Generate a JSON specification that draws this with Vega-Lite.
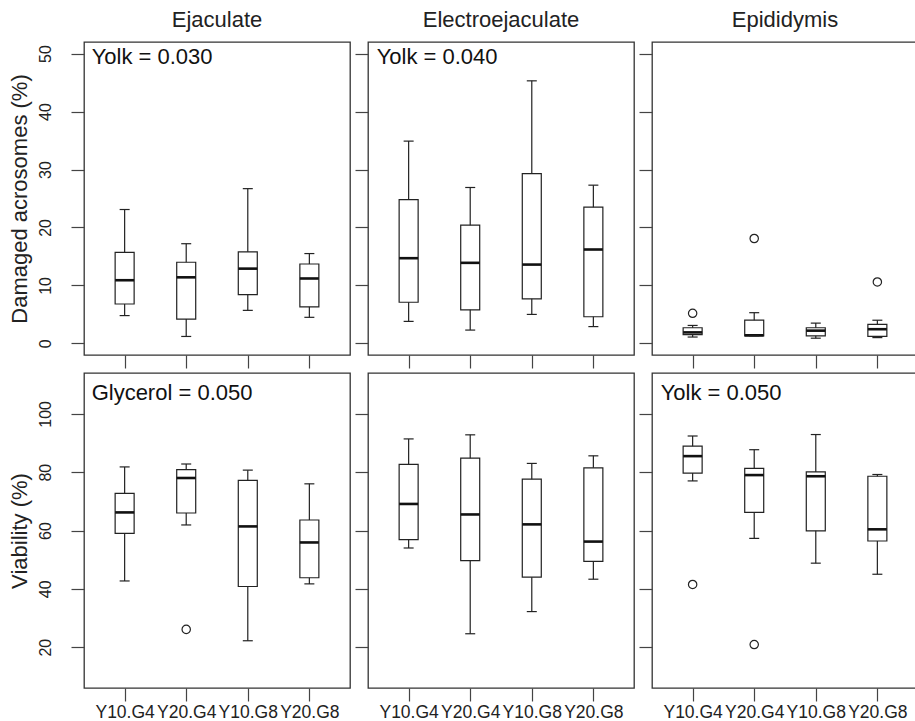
{
  "$schema": "https://vega.github.io/schema/vega-lite/v6.json",
  "padding": {"left": 7, "top": 8, "right": 0, "bottom": 0},
  "background": "white",
  "config": {
    "font": "Liberation Sans",
    "view": {"stroke": "#333", "strokeWidth": 1.3},
    "axis": {"domain": false, "grid": false, "tickSize": 13, "tickColor": "#444", "tickWidth": 1.2, "labelColor": "#222", "titleColor": "#222", "titleFontWeight": "normal"},
    "axisY": {"labelAngle": -90, "labelAlign": "center", "labelBaseline": "bottom", "labelFontSize": 16, "labelPadding": 18, "titleFontSize": 22, "titlePadding": 6},
    "axisX": {"labelAngle": 0, "labelFontSize": 17.5, "labelPadding": 2},
    "title": {"fontSize": 22, "fontWeight": "normal", "offset": 10, "color": "#222"}
  },
  "data": {"values": [
    {"k": "box", "s": "Ejaculate", "m": "DA", "g": "Y10.G4", "lo": 4.8, "q1": 6.8, "med": 10.9, "q3": 15.7, "hi": 23.1},
    {"k": "box", "s": "Ejaculate", "m": "DA", "g": "Y20.G4", "lo": 1.2, "q1": 4.2, "med": 11.4, "q3": 14.0, "hi": 17.2},
    {"k": "box", "s": "Ejaculate", "m": "DA", "g": "Y10.G8", "lo": 5.7, "q1": 8.4, "med": 12.9, "q3": 15.8, "hi": 26.7},
    {"k": "box", "s": "Ejaculate", "m": "DA", "g": "Y20.G8", "lo": 4.5, "q1": 6.3, "med": 11.2, "q3": 13.7, "hi": 15.5},
    {"k": "box", "s": "Electroejaculate", "m": "DA", "g": "Y10.G4", "lo": 3.8, "q1": 7.1, "med": 14.7, "q3": 24.8, "hi": 34.9},
    {"k": "box", "s": "Electroejaculate", "m": "DA", "g": "Y20.G4", "lo": 2.3, "q1": 5.8, "med": 13.9, "q3": 20.4, "hi": 26.9},
    {"k": "box", "s": "Electroejaculate", "m": "DA", "g": "Y10.G8", "lo": 5.0, "q1": 7.7, "med": 13.6, "q3": 29.3, "hi": 45.3},
    {"k": "box", "s": "Electroejaculate", "m": "DA", "g": "Y20.G8", "lo": 2.9, "q1": 4.6, "med": 16.2, "q3": 23.5, "hi": 27.3},
    {"k": "box", "s": "Epididymis", "m": "DA", "g": "Y10.G4", "lo": 1.1, "q1": 1.5, "med": 1.9, "q3": 2.7, "hi": 3.1},
    {"k": "box", "s": "Epididymis", "m": "DA", "g": "Y20.G4", "lo": 1.3, "q1": 1.3, "med": 1.4, "q3": 4.0, "hi": 5.3},
    {"k": "box", "s": "Epididymis", "m": "DA", "g": "Y10.G8", "lo": 0.9, "q1": 1.3, "med": 2.2, "q3": 2.7, "hi": 3.5},
    {"k": "box", "s": "Epididymis", "m": "DA", "g": "Y20.G8", "lo": 1.0, "q1": 1.2, "med": 2.45, "q3": 3.3, "hi": 4.0},
    {"k": "out", "s": "Epididymis", "m": "DA", "g": "Y10.G4", "v": 5.2},
    {"k": "out", "s": "Epididymis", "m": "DA", "g": "Y20.G4", "v": 18.1},
    {"k": "out", "s": "Epididymis", "m": "DA", "g": "Y20.G8", "v": 10.6},
    {"k": "box", "s": "Ejaculate", "m": "V", "g": "Y10.G4", "lo": 42.7, "q1": 59.0, "med": 66.2, "q3": 72.7, "hi": 81.8},
    {"k": "box", "s": "Ejaculate", "m": "V", "g": "Y20.G4", "lo": 61.9, "q1": 66.0, "med": 78.0, "q3": 80.9, "hi": 82.8},
    {"k": "box", "s": "Ejaculate", "m": "V", "g": "Y10.G8", "lo": 22.2, "q1": 40.8, "med": 61.4, "q3": 77.2, "hi": 80.7},
    {"k": "box", "s": "Ejaculate", "m": "V", "g": "Y20.G8", "lo": 41.7, "q1": 43.8, "med": 55.9, "q3": 63.6, "hi": 76.0},
    {"k": "out", "s": "Ejaculate", "m": "V", "g": "Y20.G4", "v": 26.1},
    {"k": "box", "s": "Electroejaculate", "m": "V", "g": "Y10.G4", "lo": 54.0, "q1": 56.9, "med": 69.1, "q3": 82.7, "hi": 91.4},
    {"k": "box", "s": "Electroejaculate", "m": "V", "g": "Y20.G4", "lo": 24.6, "q1": 49.7, "med": 65.5, "q3": 84.8, "hi": 92.8},
    {"k": "box", "s": "Electroejaculate", "m": "V", "g": "Y10.G8", "lo": 32.2, "q1": 44.0, "med": 62.1, "q3": 77.6, "hi": 83.0},
    {"k": "box", "s": "Electroejaculate", "m": "V", "g": "Y20.G8", "lo": 43.3, "q1": 49.4, "med": 56.2, "q3": 81.5, "hi": 85.6},
    {"k": "box", "s": "Epididymis", "m": "V", "g": "Y10.G4", "lo": 77.0, "q1": 79.7, "med": 85.5, "q3": 88.9, "hi": 92.4},
    {"k": "box", "s": "Epididymis", "m": "V", "g": "Y20.G4", "lo": 57.3, "q1": 66.2, "med": 79.0, "q3": 81.3, "hi": 87.7},
    {"k": "box", "s": "Epididymis", "m": "V", "g": "Y10.G8", "lo": 48.8, "q1": 59.9, "med": 78.6, "q3": 80.1, "hi": 92.9},
    {"k": "box", "s": "Epididymis", "m": "V", "g": "Y20.G8", "lo": 45.0, "q1": 56.4, "med": 60.4, "q3": 78.6, "hi": 79.2},
    {"k": "out", "s": "Epididymis", "m": "V", "g": "Y10.G4", "v": 41.5},
    {"k": "out", "s": "Epididymis", "m": "V", "g": "Y20.G4", "v": 20.9},
    {"k": "note", "s": "Ejaculate", "m": "DA", "g": "Y10.G4", "label": "Yolk = 0.030"},
    {"k": "note", "s": "Electroejaculate", "m": "DA", "g": "Y10.G4", "label": "Yolk = 0.040"},
    {"k": "note", "s": "Ejaculate", "m": "V", "g": "Y10.G4", "label": "Glycerol = 0.050"},
    {"k": "note", "s": "Epididymis", "m": "V", "g": "Y10.G4", "label": "Yolk = 0.050"}
  ]},
  "vconcat": [
    {
      "hconcat": [
        {
          "width": 266, "height": 313,
          "title": "Ejaculate",
          "transform": [{"filter": "datum.s == 'Ejaculate' && datum.m == 'DA'"}],
          "encoding": {"x": {"field": "g", "type": "nominal", "sort": ["Y10.G4", "Y20.G4", "Y10.G8", "Y20.G8"], "scale": {"type": "point", "padding": 0.66, "domain": ["Y10.G4", "Y20.G4", "Y10.G8", "Y20.G8"]}, "axis": {"labels": false, "title": null}}},
          "layer": [
            {"transform": [{"filter": "datum.k == 'box'"}], "mark": {"type": "rule", "color": "#222", "strokeWidth": 1.2}, "encoding": {"y": {"field": "lo", "type": "quantitative", "scale": {"domain": [-2, 52], "nice": false, "zero": false}, "axis": {"values": [0, 10, 20, 30, 40, 50], "title": "Damaged acrosomes (%)"}}, "y2": {"field": "hi"}}},
            {"transform": [{"filter": "datum.k == 'box'"}], "mark": {"type": "bar", "fill": "white", "stroke": "#222", "strokeWidth": 1.2, "size": 19}, "encoding": {"y": {"field": "q1", "type": "quantitative", "scale": {"domain": [-2, 52], "nice": false, "zero": false}}, "y2": {"field": "q3"}}},
            {"transform": [{"filter": "datum.k == 'box'"}], "mark": {"type": "tick", "color": "#111", "thickness": 2.6, "size": 19, "opacity": 1}, "encoding": {"y": {"field": "med", "type": "quantitative", "scale": {"domain": [-2, 52], "nice": false, "zero": false}}}},
            {"transform": [{"filter": "datum.k == 'box'"}], "mark": {"type": "tick", "color": "#222", "thickness": 1.2, "size": 10, "opacity": 1}, "encoding": {"y": {"field": "lo", "type": "quantitative", "scale": {"domain": [-2, 52], "nice": false, "zero": false}}}},
            {"transform": [{"filter": "datum.k == 'box'"}], "mark": {"type": "tick", "color": "#222", "thickness": 1.2, "size": 10, "opacity": 1}, "encoding": {"y": {"field": "hi", "type": "quantitative", "scale": {"domain": [-2, 52], "nice": false, "zero": false}}}},
            {"transform": [{"filter": "datum.k == 'note'"}], "mark": {"type": "text", "align": "left", "baseline": "middle", "dx": -33, "fontSize": 22, "color": "#111"}, "encoding": {"text": {"field": "label"}, "y": {"datum": 49.4, "type": "quantitative", "scale": {"domain": [-2, 52], "nice": false, "zero": false}}}}
          ]
        },
        {
          "width": 266, "height": 313,
          "title": "Electroejaculate",
          "transform": [{"filter": "datum.s == 'Electroejaculate' && datum.m == 'DA'"}],
          "encoding": {"x": {"field": "g", "type": "nominal", "sort": ["Y10.G4", "Y20.G4", "Y10.G8", "Y20.G8"], "scale": {"type": "point", "padding": 0.66, "domain": ["Y10.G4", "Y20.G4", "Y10.G8", "Y20.G8"]}, "axis": {"labels": false, "title": null}}},
          "layer": [
            {"transform": [{"filter": "datum.k == 'box'"}], "mark": {"type": "rule", "color": "#222", "strokeWidth": 1.2}, "encoding": {"y": {"field": "lo", "type": "quantitative", "scale": {"domain": [-2, 52], "nice": false, "zero": false}, "axis": {"values": [0, 10, 20, 30, 40, 50], "labels": false, "title": null}}, "y2": {"field": "hi"}}},
            {"transform": [{"filter": "datum.k == 'box'"}], "mark": {"type": "bar", "fill": "white", "stroke": "#222", "strokeWidth": 1.2, "size": 19}, "encoding": {"y": {"field": "q1", "type": "quantitative", "scale": {"domain": [-2, 52], "nice": false, "zero": false}}, "y2": {"field": "q3"}}},
            {"transform": [{"filter": "datum.k == 'box'"}], "mark": {"type": "tick", "color": "#111", "thickness": 2.6, "size": 19, "opacity": 1}, "encoding": {"y": {"field": "med", "type": "quantitative", "scale": {"domain": [-2, 52], "nice": false, "zero": false}}}},
            {"transform": [{"filter": "datum.k == 'box'"}], "mark": {"type": "tick", "color": "#222", "thickness": 1.2, "size": 10, "opacity": 1}, "encoding": {"y": {"field": "lo", "type": "quantitative", "scale": {"domain": [-2, 52], "nice": false, "zero": false}}}},
            {"transform": [{"filter": "datum.k == 'box'"}], "mark": {"type": "tick", "color": "#222", "thickness": 1.2, "size": 10, "opacity": 1}, "encoding": {"y": {"field": "hi", "type": "quantitative", "scale": {"domain": [-2, 52], "nice": false, "zero": false}}}},
            {"transform": [{"filter": "datum.k == 'note'"}], "mark": {"type": "text", "align": "left", "baseline": "middle", "dx": -32, "fontSize": 22, "color": "#111"}, "encoding": {"text": {"field": "label"}, "y": {"datum": 49.4, "type": "quantitative", "scale": {"domain": [-2, 52], "nice": false, "zero": false}}}}
          ]
        },
        {
          "width": 266, "height": 313,
          "title": "Epididymis",
          "transform": [{"filter": "datum.s == 'Epididymis' && datum.m == 'DA'"}],
          "encoding": {"x": {"field": "g", "type": "nominal", "sort": ["Y10.G4", "Y20.G4", "Y10.G8", "Y20.G8"], "scale": {"type": "point", "padding": 0.66, "domain": ["Y10.G4", "Y20.G4", "Y10.G8", "Y20.G8"]}, "axis": {"labels": false, "title": null}}},
          "layer": [
            {"transform": [{"filter": "datum.k == 'box'"}], "mark": {"type": "rule", "color": "#222", "strokeWidth": 1.2}, "encoding": {"y": {"field": "lo", "type": "quantitative", "scale": {"domain": [-2, 52], "nice": false, "zero": false}, "axis": {"values": [0, 10, 20, 30, 40, 50], "labels": false, "title": null}}, "y2": {"field": "hi"}}},
            {"transform": [{"filter": "datum.k == 'box'"}], "mark": {"type": "bar", "fill": "white", "stroke": "#222", "strokeWidth": 1.2, "size": 19}, "encoding": {"y": {"field": "q1", "type": "quantitative", "scale": {"domain": [-2, 52], "nice": false, "zero": false}}, "y2": {"field": "q3"}}},
            {"transform": [{"filter": "datum.k == 'box'"}], "mark": {"type": "tick", "color": "#111", "thickness": 2.6, "size": 19, "opacity": 1}, "encoding": {"y": {"field": "med", "type": "quantitative", "scale": {"domain": [-2, 52], "nice": false, "zero": false}}}},
            {"transform": [{"filter": "datum.k == 'box'"}], "mark": {"type": "tick", "color": "#222", "thickness": 1.2, "size": 10, "opacity": 1}, "encoding": {"y": {"field": "lo", "type": "quantitative", "scale": {"domain": [-2, 52], "nice": false, "zero": false}}}},
            {"transform": [{"filter": "datum.k == 'box'"}], "mark": {"type": "tick", "color": "#222", "thickness": 1.2, "size": 10, "opacity": 1}, "encoding": {"y": {"field": "hi", "type": "quantitative", "scale": {"domain": [-2, 52], "nice": false, "zero": false}}}},
            {"transform": [{"filter": "datum.k == 'out'"}], "mark": {"type": "point", "shape": "circle", "filled": false, "stroke": "#222", "strokeWidth": 1.2, "size": 70, "opacity": 1}, "encoding": {"y": {"field": "v", "type": "quantitative", "scale": {"domain": [-2, 52], "nice": false, "zero": false}}}}
          ]
        }
      ],
      "spacing": 2
    },
    {
      "hconcat": [
        {
          "width": 266, "height": 315,
          "transform": [{"filter": "datum.s == 'Ejaculate' && datum.m == 'V'"}],
          "encoding": {"x": {"field": "g", "type": "nominal", "sort": ["Y10.G4", "Y20.G4", "Y10.G8", "Y20.G8"], "scale": {"type": "point", "padding": 0.66, "domain": ["Y10.G4", "Y20.G4", "Y10.G8", "Y20.G8"]}, "axis": {"title": null}}},
          "layer": [
            {"transform": [{"filter": "datum.k == 'box'"}], "mark": {"type": "rule", "color": "#222", "strokeWidth": 1.2}, "encoding": {"y": {"field": "lo", "type": "quantitative", "scale": {"domain": [6, 114], "nice": false, "zero": false}, "axis": {"values": [20, 40, 60, 80, 100], "title": "Viability (%)"}}, "y2": {"field": "hi"}}},
            {"transform": [{"filter": "datum.k == 'box'"}], "mark": {"type": "bar", "fill": "white", "stroke": "#222", "strokeWidth": 1.2, "size": 19}, "encoding": {"y": {"field": "q1", "type": "quantitative", "scale": {"domain": [6, 114], "nice": false, "zero": false}}, "y2": {"field": "q3"}}},
            {"transform": [{"filter": "datum.k == 'box'"}], "mark": {"type": "tick", "color": "#111", "thickness": 2.6, "size": 19, "opacity": 1}, "encoding": {"y": {"field": "med", "type": "quantitative", "scale": {"domain": [6, 114], "nice": false, "zero": false}}}},
            {"transform": [{"filter": "datum.k == 'box'"}], "mark": {"type": "tick", "color": "#222", "thickness": 1.2, "size": 10, "opacity": 1}, "encoding": {"y": {"field": "lo", "type": "quantitative", "scale": {"domain": [6, 114], "nice": false, "zero": false}}}},
            {"transform": [{"filter": "datum.k == 'box'"}], "mark": {"type": "tick", "color": "#222", "thickness": 1.2, "size": 10, "opacity": 1}, "encoding": {"y": {"field": "hi", "type": "quantitative", "scale": {"domain": [6, 114], "nice": false, "zero": false}}}},
            {"transform": [{"filter": "datum.k == 'out'"}], "mark": {"type": "point", "shape": "circle", "filled": false, "stroke": "#222", "strokeWidth": 1.2, "size": 70, "opacity": 1}, "encoding": {"y": {"field": "v", "type": "quantitative", "scale": {"domain": [6, 114], "nice": false, "zero": false}}}},
            {"transform": [{"filter": "datum.k == 'note'"}], "mark": {"type": "text", "align": "left", "baseline": "middle", "dx": -33, "fontSize": 22, "color": "#111"}, "encoding": {"text": {"field": "label"}, "y": {"datum": 107.3, "type": "quantitative", "scale": {"domain": [6, 114], "nice": false, "zero": false}}}}
          ]
        },
        {
          "width": 266, "height": 315,
          "transform": [{"filter": "datum.s == 'Electroejaculate' && datum.m == 'V'"}],
          "encoding": {"x": {"field": "g", "type": "nominal", "sort": ["Y10.G4", "Y20.G4", "Y10.G8", "Y20.G8"], "scale": {"type": "point", "padding": 0.66, "domain": ["Y10.G4", "Y20.G4", "Y10.G8", "Y20.G8"]}, "axis": {"title": null}}},
          "layer": [
            {"transform": [{"filter": "datum.k == 'box'"}], "mark": {"type": "rule", "color": "#222", "strokeWidth": 1.2}, "encoding": {"y": {"field": "lo", "type": "quantitative", "scale": {"domain": [6, 114], "nice": false, "zero": false}, "axis": {"values": [20, 40, 60, 80, 100], "labels": false, "title": null}}, "y2": {"field": "hi"}}},
            {"transform": [{"filter": "datum.k == 'box'"}], "mark": {"type": "bar", "fill": "white", "stroke": "#222", "strokeWidth": 1.2, "size": 19}, "encoding": {"y": {"field": "q1", "type": "quantitative", "scale": {"domain": [6, 114], "nice": false, "zero": false}}, "y2": {"field": "q3"}}},
            {"transform": [{"filter": "datum.k == 'box'"}], "mark": {"type": "tick", "color": "#111", "thickness": 2.6, "size": 19, "opacity": 1}, "encoding": {"y": {"field": "med", "type": "quantitative", "scale": {"domain": [6, 114], "nice": false, "zero": false}}}},
            {"transform": [{"filter": "datum.k == 'box'"}], "mark": {"type": "tick", "color": "#222", "thickness": 1.2, "size": 10, "opacity": 1}, "encoding": {"y": {"field": "lo", "type": "quantitative", "scale": {"domain": [6, 114], "nice": false, "zero": false}}}},
            {"transform": [{"filter": "datum.k == 'box'"}], "mark": {"type": "tick", "color": "#222", "thickness": 1.2, "size": 10, "opacity": 1}, "encoding": {"y": {"field": "hi", "type": "quantitative", "scale": {"domain": [6, 114], "nice": false, "zero": false}}}}
          ]
        },
        {
          "width": 266, "height": 315,
          "transform": [{"filter": "datum.s == 'Epididymis' && datum.m == 'V'"}],
          "encoding": {"x": {"field": "g", "type": "nominal", "sort": ["Y10.G4", "Y20.G4", "Y10.G8", "Y20.G8"], "scale": {"type": "point", "padding": 0.66, "domain": ["Y10.G4", "Y20.G4", "Y10.G8", "Y20.G8"]}, "axis": {"title": null}}},
          "layer": [
            {"transform": [{"filter": "datum.k == 'box'"}], "mark": {"type": "rule", "color": "#222", "strokeWidth": 1.2}, "encoding": {"y": {"field": "lo", "type": "quantitative", "scale": {"domain": [6, 114], "nice": false, "zero": false}, "axis": {"values": [20, 40, 60, 80, 100], "labels": false, "title": null}}, "y2": {"field": "hi"}}},
            {"transform": [{"filter": "datum.k == 'box'"}], "mark": {"type": "bar", "fill": "white", "stroke": "#222", "strokeWidth": 1.2, "size": 19}, "encoding": {"y": {"field": "q1", "type": "quantitative", "scale": {"domain": [6, 114], "nice": false, "zero": false}}, "y2": {"field": "q3"}}},
            {"transform": [{"filter": "datum.k == 'box'"}], "mark": {"type": "tick", "color": "#111", "thickness": 2.6, "size": 19, "opacity": 1}, "encoding": {"y": {"field": "med", "type": "quantitative", "scale": {"domain": [6, 114], "nice": false, "zero": false}}}},
            {"transform": [{"filter": "datum.k == 'box'"}], "mark": {"type": "tick", "color": "#222", "thickness": 1.2, "size": 10, "opacity": 1}, "encoding": {"y": {"field": "lo", "type": "quantitative", "scale": {"domain": [6, 114], "nice": false, "zero": false}}}},
            {"transform": [{"filter": "datum.k == 'box'"}], "mark": {"type": "tick", "color": "#222", "thickness": 1.2, "size": 10, "opacity": 1}, "encoding": {"y": {"field": "hi", "type": "quantitative", "scale": {"domain": [6, 114], "nice": false, "zero": false}}}},
            {"transform": [{"filter": "datum.k == 'out'"}], "mark": {"type": "point", "shape": "circle", "filled": false, "stroke": "#222", "strokeWidth": 1.2, "size": 70, "opacity": 1}, "encoding": {"y": {"field": "v", "type": "quantitative", "scale": {"domain": [6, 114], "nice": false, "zero": false}}}},
            {"transform": [{"filter": "datum.k == 'note'"}], "mark": {"type": "text", "align": "left", "baseline": "middle", "dx": -32, "fontSize": 22, "color": "#111"}, "encoding": {"text": {"field": "label"}, "y": {"datum": 107.3, "type": "quantitative", "scale": {"domain": [6, 114], "nice": false, "zero": false}}}}
          ]
        }
      ],
      "spacing": 2
    }
  ],
  "spacing": 2
}
